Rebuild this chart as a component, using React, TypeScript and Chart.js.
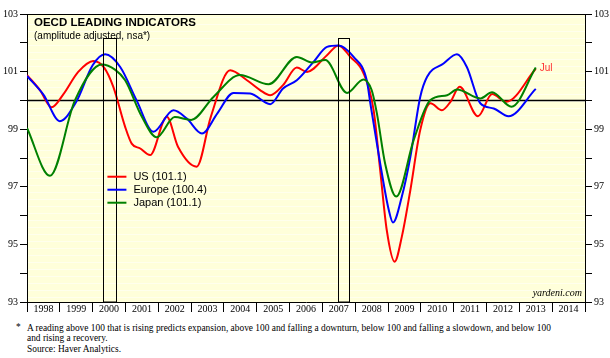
import React, { useEffect, useRef } from 'react';
import { Chart, registerables } from 'chart.js';
Chart.register(...registerables);

const usDates = [1998.0, 1998.4, 1998.75, 1999.1, 1999.56, 2000.02, 2000.35, 2000.63, 2000.99, 2001.19, 2001.45, 2001.75, 2002.26, 2002.6, 2003.17, 2003.6, 2004.19, 2004.7, 2005.1, 2005.41, 2005.8, 2006.22, 2006.53, 2007.14, 2007.49, 2007.85, 2008.25, 2008.56, 2008.76, 2008.96, 2009.2, 2009.42, 2009.68, 2009.98, 2010.29, 2010.64, 2010.9, 2011.18, 2011.74, 2012.17, 2012.6, 2013.5];
const usValues = [100.88, 100.35, 99.76, 100.2, 100.99, 101.37, 101.14, 100.47, 99.08, 98.5, 98.33, 98.1, 99.43, 98.39, 97.7, 99.43, 101.05, 100.7, 100.36, 100.18, 100.53, 101.14, 100.99, 101.57, 101.91, 101.51, 100.95, 99.66, 97.58, 95.5, 94.4, 95.27, 96.89, 98.97, 99.9, 99.66, 99.95, 100.47, 99.45, 100.22, 99.95, 101.1];

const euDates = [1998.0, 1998.5, 1999.0, 1999.5, 2000.0, 2000.38, 2000.84, 2001.34, 2001.85, 2002.46, 2002.87, 2003.33, 2003.8, 2004.29, 2004.8, 2005.41, 2005.8, 2006.22, 2006.73, 2007.14, 2007.49, 2007.95, 2008.35, 2008.46, 2008.76, 2009.02, 2009.15, 2009.42, 2009.68, 2009.98, 2010.19, 2010.69, 2011.1, 2011.4, 2011.81, 2012.22, 2012.67, 2013.5];
const euValues = [100.85, 100.2, 99.28, 99.95, 101.22, 101.6, 101.16, 100.0, 98.91, 99.66, 99.37, 98.85, 99.55, 100.26, 100.24, 99.87, 100.41, 100.7, 101.34, 101.86, 101.91, 101.51, 100.7, 99.9, 97.81, 96.2, 95.76, 96.66, 98.04, 100.12, 100.82, 101.28, 101.6, 101.16, 99.9, 99.72, 99.45, 100.4];

const jpDates = [1998.0, 1998.7, 1999.46, 2000.28, 2000.68, 2000.99, 2001.5, 2001.95, 2002.5, 2003.0, 2003.68, 2004.49, 2005.36, 2006.22, 2006.68, 2007.09, 2007.75, 2008.25, 2008.5, 2008.66, 2008.91, 2009.25, 2009.78, 2010.29, 2010.8, 2011.1, 2011.81, 2012.17, 2012.76, 2013.5];
const jpValues = [99.04, 97.38, 100.0, 101.25, 101.07, 100.7, 99.43, 98.72, 99.42, 99.32, 100.12, 100.88, 100.56, 101.51, 101.32, 101.4, 100.26, 100.73, 100.36, 99.55, 97.81, 96.66, 98.62, 100.01, 100.18, 100.38, 100.07, 100.28, 99.78, 101.14];

const seriesNames = ['US (101.1)', 'Europe (100.4)', 'Japan (101.1)'];
const seriesColors = ['#FF0000', '#0000FF', '#008000'];

const yearLabels = [1998, 1999, 2000, 2001, 2002, 2003, 2004, 2005, 2006, 2007, 2008, 2009, 2010, 2011, 2012, 2013, 2014];
const yTickValues = [93, 94, 95, 96, 97, 98, 99, 100, 101, 102, 103];
const boxStarts = [2000.33, 2007.48];
const boxEnds = [2000.71, 2007.82];
const boxTop = 102.15;
const referenceLevel = 100;

const toPoints = (xs: number[], ys: number[]) => xs.map((x, i) => ({ x, y: ys[i] }));

const decoPlugin = {
  id: 'deco',
  beforeDraw(chart: any) {
    const { ctx, chartArea: a } = chart;
    ctx.save();
    ctx.fillStyle = '#FFFFDA';
    ctx.fillRect(a.left, a.top, a.right - a.left, a.bottom - a.top);
    ctx.fillStyle = 'rgba(255,255,245,0.7)';
    for (let y = a.top + 3; y < a.bottom; y += 7) {
      ctx.fillRect(a.left, y, a.right - a.left, 1);
    }
    ctx.restore();
  },
  beforeDatasetsDraw(chart: any) {
    const { ctx, chartArea: a, scales } = chart;
    const y = Math.round(scales.y.getPixelForValue(referenceLevel)) + 0.5;
    ctx.save();
    ctx.strokeStyle = '#000';
    ctx.lineWidth = 1.5;
    ctx.beginPath();
    ctx.moveTo(a.left, y);
    ctx.lineTo(a.right, y);
    ctx.stroke();
    ctx.restore();
  },
  afterDatasetsDraw(chart: any) {
    const { ctx, chartArea: a, scales } = chart;
    ctx.save();
    ctx.strokeStyle = '#000';
    ctx.lineWidth = 1;
    boxStarts.forEach((s, i) => {
      const x1 = Math.round(scales.x.getPixelForValue(s)) + 0.5;
      const x2 = Math.round(scales.x.getPixelForValue(boxEnds[i])) + 0.5;
      const yt = Math.round(scales.y.getPixelForValue(boxTop)) + 0.5;
      ctx.strokeRect(x1, yt, x2 - x1, a.bottom - yt);
    });
    ctx.beginPath();
    ctx.moveTo(a.left, Math.round(a.top) + 0.5);
    ctx.lineTo(a.right, Math.round(a.top) + 0.5);
    ctx.stroke();
    ctx.restore();
  },
  afterDraw(chart: any) {
    const { ctx, chartArea: a, scales } = chart;
    ctx.save();
    ctx.fillStyle = '#000';
    ctx.textBaseline = 'alphabetic';
    ctx.font = 'bold 11.5px "Liberation Sans", Arial, sans-serif';
    ctx.fillText('OECD LEADING INDICATORS', a.left + 7, a.top + 12);
    ctx.font = '10px "Liberation Sans", Arial, sans-serif';
    ctx.fillText('(amplitude adjusted, nsa*)', a.left + 7, a.top + 25);

    // legend
    ctx.font = '11px "Liberation Sans", Arial, sans-serif';
    ctx.textBaseline = 'middle';
    const lx = scales.x.getPixelForValue(2000.45);
    const ly0 = scales.y.getPixelForValue(97.35);
    seriesNames.forEach((n, i) => {
      const ly = ly0 + i * 13;
      ctx.strokeStyle = seriesColors[i];
      ctx.lineWidth = 2;
      ctx.beginPath();
      ctx.moveTo(lx, ly);
      ctx.lineTo(lx + 19, ly);
      ctx.stroke();
      ctx.fillStyle = '#000';
      ctx.fillText(n, lx + 26, ly + 0.5);
    });

    // Jul label
    ctx.fillStyle = '#FF3030';
    ctx.font = '10px "Liberation Sans", Arial, sans-serif';
    const lastX = scales.x.getPixelForValue(usDates[usDates.length - 1]);
    const lastY = scales.y.getPixelForValue(usValues[usValues.length - 1]);
    ctx.fillText('Jul', lastX + 4, lastY);

    // yardeni
    ctx.fillStyle = '#000';
    ctx.textAlign = 'right';
    ctx.textBaseline = 'alphabetic';
    ctx.font = 'italic 10px "Liberation Serif", "Times New Roman", serif';
    ctx.fillText('yardeni.com', a.right - 3, a.bottom - 6);
    ctx.restore();
  },
};

export default function App() {
  const ref = useRef<HTMLCanvasElement | null>(null);
  useEffect(() => {
    if (!ref.current) return;
    const serifFont = { family: '"Liberation Serif", "Times New Roman", serif', size: 10 };
    const yAxis = (pos: 'left' | 'right', w: number) => ({
      type: 'linear' as const,
      position: pos,
      min: 93,
      max: 103,
      afterBuildTicks: (s: any) => { s.ticks = yTickValues.map((v) => ({ value: v })); },
      afterFit: (s: any) => { s.width = w; },
      grid: { drawOnChartArea: false, drawTicks: true, tickLength: 7, color: '#000', lineWidth: 1 },
      border: { display: true, color: '#000', width: 1 },
      ticks: {
        font: serifFont,
        color: '#000',
        padding: 2,
        callback: (v: any) => (Number(v) % 2 === 1 ? String(v) : ''),
      },
    });
    const chart = new Chart(ref.current, {
      type: 'line',
      data: {
        datasets: [
          { label: seriesNames[2], data: toPoints(jpDates, jpValues), borderColor: seriesColors[2], order: 1 },
          { label: seriesNames[1], data: toPoints(euDates, euValues), borderColor: seriesColors[1], order: 2 },
          { label: seriesNames[0], data: toPoints(usDates, usValues), borderColor: seriesColors[0], order: 3 },
        ].map((d) => ({ ...d, borderWidth: 2, pointRadius: 0, fill: false, cubicInterpolationMode: 'monotone' as const })),
      },
      options: {
        animation: false,
        responsive: false,
        maintainAspectRatio: false,
        layout: { padding: { top: 14, left: 0, right: 0, bottom: 0 } },
        plugins: { legend: { display: false }, tooltip: { enabled: false }, title: { display: false } },
        scales: {
          x: {
            type: 'linear',
            min: 1998,
            max: 2015,
            afterBuildTicks: (s: any) => {
              const t: any[] = [];
              yearLabels.forEach((yr) => { t.push({ value: yr }); t.push({ value: yr + 0.5 }); });
              t.push({ value: 2015 });
              s.ticks = t;
            },
            afterFit: (s: any) => { s.height = 16; },
            grid: {
              drawOnChartArea: false,
              drawTicks: true,
              tickLength: 10,
              lineWidth: 1,
              color: (c: any) => (c.tick && Number.isInteger(c.tick.value) ? '#000' : 'rgba(0,0,0,0)'),
            },
            border: { display: true, color: '#000', width: 1 },
            ticks: {
              autoSkip: false,
              maxRotation: 0,
              font: serifFont,
              color: '#000',
              padding: -9,
              callback: (v: any) => (Number(v) % 1 === 0.5 ? String(Math.floor(Number(v))) : ''),
            },
          },
          y: yAxis('left', 27),
          y2: { ...yAxis('right', 25) },
        },
      },
      plugins: [decoPlugin],
    });
    return () => chart.destroy();
  }, []);

  const noteStyle: React.CSSProperties = {
    position: 'absolute',
    left: 27,
    whiteSpace: 'nowrap',
    fontFamily: '"Liberation Serif", "Times New Roman", serif',
    fontSize: 9.4,
    lineHeight: '10px',
    color: '#000',
  };
  return (
    <div style={{ position: 'absolute', left: 0, top: 0, width: 610, height: 358, background: '#fff' }}>
      <canvas ref={ref} width={610} height={318} style={{ position: 'absolute', left: 0, top: 0, width: 610, height: 318 }} />
      <div style={{ ...noteStyle, left: 16, top: 322 }}>*</div>
      <div style={{ ...noteStyle, top: 323 }}>
        A reading above 100 that is rising predicts expansion, above 100 and falling a downturn, below 100 and falling a slowdown, and below 100
      </div>
      <div style={{ ...noteStyle, top: 333 }}>and rising a recovery.</div>
      <div style={{ ...noteStyle, top: 344 }}>Source: Haver Analytics.</div>
    </div>
  );
}
